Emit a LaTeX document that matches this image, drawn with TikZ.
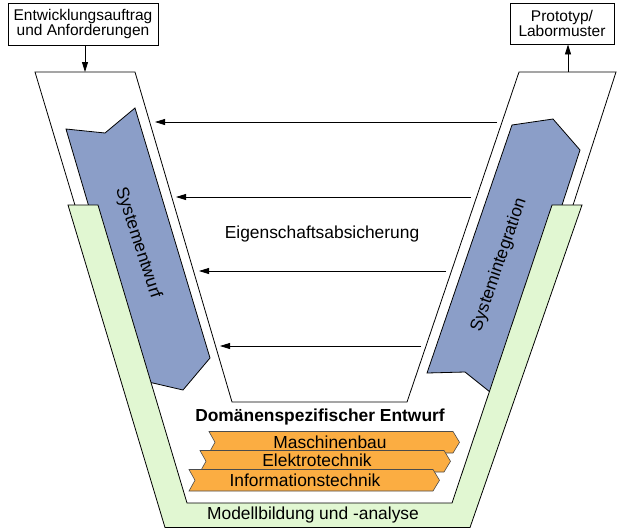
\documentclass[tikz,border=0pt]{standalone}
\usepackage{fontspec}
\setmainfont{Liberation Sans}
\usetikzlibrary{arrows.meta}
\definecolor{vblue}{RGB}{139,158,200}
\definecolor{vgreen}{RGB}{225,247,210}
\definecolor{vorange}{RGB}{251,173,66}
% orange chevron band: #1 = left x, #2 = top y
\newcommand\chevronband[2]{%
  \filldraw[chev] (#1,#2) -- ++(244,0) -- ++(6.5,10.75) -- ++(-6.5,10.75)
    -- ++(-244,0) -- ++(6,-10.75) -- cycle;}
\begin{document}
\begin{tikzpicture}[x=1pt,y=-1pt,
  outline/.style={draw=black,line width=0.8pt,line join=miter},
  chev/.style={draw=black!70,line width=0.6pt,fill=vorange},
  arr/.style={-{Triangle[length=10pt,width=6pt]},line width=0.8pt},
  lbl/.style={font=\fontsize{17.4}{19}\selectfont,inner sep=0pt},
  boxtxt/.style={draw=black,line width=0.8pt,align=center,inner sep=0pt,
    font=\fontsize{15.5}{15}\selectfont}]
\useasboundingbox (0,0) rectangle (617,528);

% white V channel
\filldraw[outline,fill=white]
  (35,72) -- (135,72) -- (232,402) -- (407,402) -- (519,72) -- (616,72)
  -- (473,515) -- (168,515) -- cycle;

% design and integration phases
\filldraw[outline,fill=vblue]
  (66,129) -- (105,133) -- (135,108) -- (210,358) -- (183,390) -- (140,380) -- cycle;
\filldraw[outline,fill=vblue]
  (427,373) -- (512,125) -- (553,119) -- (580,150) -- (498.6,398.9)
  -- (490,392) -- (465,372) -- cycle;

% modelling band
\filldraw[outline,fill=vgreen]
  (68,205) -- (165,527.5) -- (470,527.5) -- (582,205) -- (552,205)
  -- (452,503) -- (187,503) -- (98,205) -- cycle;

% domain bands
\chevronband{209}{431.5}
\chevronband{200}{450.5}
\chevronband{189}{469.5}

% labels
\node[lbl] (mb) at (330,442) {Maschinenbau};
\node[lbl] (et) at (317,460.5) {Elektrotechnik};
\node[lbl] (it) at (305,480) {Informationstechnik};
\node[lbl,font=\fontsize{17.4}{19}\selectfont\bfseries] (dom) at (320,417) {Domänenspezifischer Entwurf};
\node[lbl] (mod) at (313,515) {Modellbildung und -analyse};
\node[lbl] (eig) at (322,234) {Eigenschaftsabsicherung};
\node[lbl,rotate=-72] (se) at (138,243) {Systementwurf};
\node[lbl,rotate=71] (si) at (499,265) {Systemintegration};

% input and output boxes
\node[boxtxt,minimum width=150pt,minimum height=42pt] (req) at (83,24)
  {Entwicklungsauftrag\\und Anforderungen};
\node[boxtxt,minimum width=104pt,minimum height=41pt] (proto) at (562,23.5)
  {Prototyp/\\Labormuster};
\coordinate (vin) at (85,72);
\coordinate (vout) at (568,72);
\draw[arr] (req.south -| vin) -- (vin);
\draw[arr] (vout) -- (proto.south -| vout);

% verification feedback arrows
\coordinate (f1s) at (497,122); \coordinate (f1e) at (155,122);
\coordinate (f2s) at (471,197); \coordinate (f2e) at (176,197);
\coordinate (f3s) at (446,271); \coordinate (f3e) at (199,271);
\coordinate (f4s) at (421,346); \coordinate (f4e) at (220,346);
\draw[arr] (f1s) -- (f1e);
\draw[arr] (f2s) -- (f2e);
\draw[arr] (f3s) -- (f3e);
\draw[arr] (f4s) -- (f4e);
\end{tikzpicture}
\end{document}
